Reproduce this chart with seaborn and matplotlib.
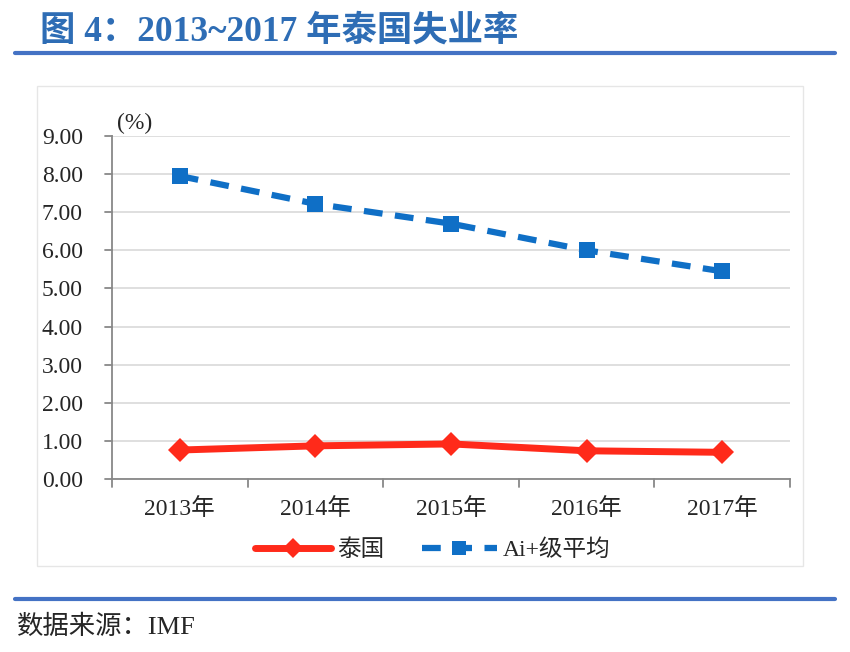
import matplotlib
matplotlib.use("Agg")
import matplotlib.pyplot as plt
import seaborn as sns
import pandas as pd
from matplotlib.lines import Line2D

years = ["2013年", "2014年", "2015年", "2016年", "2017年"]
thailand = [0.76, 0.87, 0.92, 0.74, 0.70]
ai_plus = [7.95, 7.22, 6.70, 6.00, 5.45]
series_names = ["泰国", "Ai+级平均"]
yticks = [0, 1, 2, 3, 4, 5, 6, 7, 8, 9]

sns.set_theme(style="white")
CJK = ["Noto Sans CJK SC", "DejaVu Sans"]
SERIF = ["Liberation Serif", "Noto Sans CJK SC"]
plt.rcParams["font.family"] = SERIF

df = pd.DataFrame({
    "idx": list(range(len(years))) * 2,
    "value": thailand + ai_plus,
    "series": [series_names[0]] * len(years) + [series_names[1]] * len(years),
})

fig = plt.figure(figsize=(8.5, 6.52), dpi=100)
ax = fig.add_axes([112 / 850, 1 - 479 / 652, 678 / 850, 343 / 652])

red = "#FF2A1A"
blue = "#0F6FC6"

sns.lineplot(data=df[df.series == series_names[0]], x="idx", y="value", ax=ax,
             color=red, lw=5, marker="D", markersize=12, markeredgewidth=0,
             sort=False, legend=False)
sns.lineplot(data=df[df.series == series_names[1]], x="idx", y="value", ax=ax,
             color=blue, lw=4.5, marker="s", markersize=11, markeredgewidth=0,
             sort=False, legend=False)
ax.lines[1].set_dashes([3, 2])

ax.set_xlim(-0.5, len(years) - 0.5)
ax.set_ylim(0, 9)
ax.set_yticks(yticks)
ax.set_yticklabels([f"{v:.2f}" for v in yticks], fontsize=17, family=SERIF)
ax.set_xticks(range(len(years)))
ax.set_xticklabels(years, fontsize=17, family=SERIF)
ax.tick_params(axis="x", length=0, pad=14)
ax.tick_params(axis="y", length=0, pad=21)
for b in [i - 0.5 for i in range(len(years) + 1)]:
    ax.plot([b, b], [0, -0.2], color="#888888", lw=1.3, clip_on=False)
for v in yticks:
    ax.plot([-0.5, -0.55], [v, v], color="#888888", lw=1.3, clip_on=False)
ax.set_xlabel("")
ax.set_ylabel("")
ax.grid(axis="y", color="#D9D9D9", lw=1.2)
ax.set_axisbelow(True)
for s in ["top", "right"]:
    ax.spines[s].set_visible(False)
ax.spines["left"].set_color("#888888")
ax.spines["bottom"].set_color("#888888")
ax.spines["left"].set_linewidth(1.3)
ax.spines["bottom"].set_linewidth(1.3)

fig.text(117 / 850, 1 - 123 / 652, "(%)", fontsize=17, family=SERIF, va="center", ha="left")

handles = [
    Line2D([], [], color=red, lw=5, marker="D", markersize=10, markeredgewidth=0),
    Line2D([], [], color=blue, lw=4.5, marker="s", markersize=10, markeredgewidth=0, dashes=[3, 2]),
]
fig.legend(handles, series_names, loc="center", bbox_to_anchor=(433 / 850, 1 - 550 / 652),
           ncol=2, frameon=False, prop={"family": SERIF, "size": 17},
           handlelength=3.2, columnspacing=1.6, handletextpad=0.25)

# chart border box
fig.patches.append(plt.Rectangle((37 / 850, 1 - 566 / 652), 766 / 850, 480 / 652,
                                 transform=fig.transFigure, fill=False,
                                 edgecolor="#E6E6E6", lw=1))

title_color = "#2E6DB5"
fig.text(40 / 850, 1 - 32 / 652, "图 4：2013~2017 年泰国失业率", fontsize=25.5,
         fontweight="bold", color=title_color, family=["Liberation Serif", "Noto Sans CJK SC"],
         va="center", ha="left")
fig.add_artist(Line2D([15 / 850, 835 / 850], [1 - 53 / 652] * 2, color="#4472C4", lw=3,
                      transform=fig.transFigure))
fig.add_artist(Line2D([15 / 850, 835 / 850], [1 - 599 / 652] * 2, color="#4472C4", lw=3,
                      transform=fig.transFigure))
fig.text(17 / 850, 1 - 627 / 652, "数据来源：IMF", fontsize=19,
         family=["Liberation Serif", "Noto Sans CJK SC"], va="center", ha="left")

fig.savefig("out.png", dpi=100)
